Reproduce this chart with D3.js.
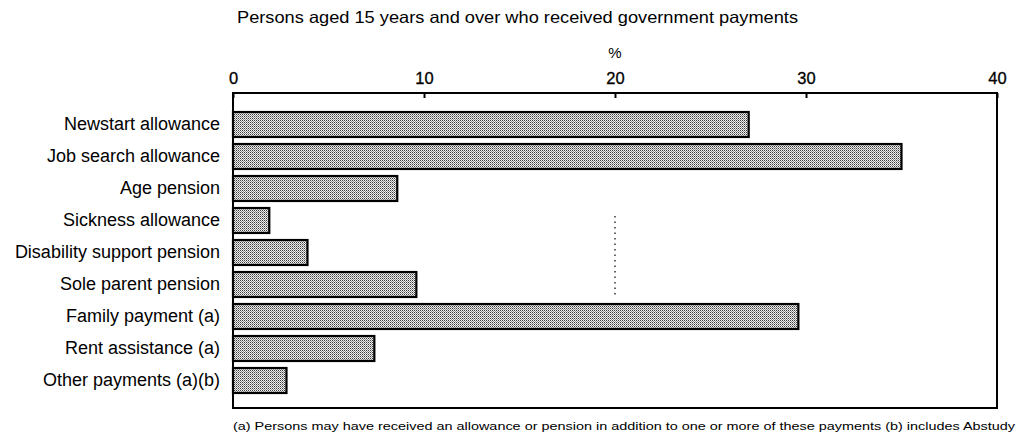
<!DOCTYPE html>
<html>
<head>
<meta charset="utf-8">
<script src="https://cdn.jsdelivr.net/npm/d3@7"></script>
<style>
  html, body { margin: 0; padding: 0; background: #fff; }
  svg { display: block; font-family: "Liberation Sans", Arial, Helvetica, sans-serif; }
</style>
</head>
<body>
<svg id="chart" width="1030" height="434"></svg>
<script>
// Categories and percentages of persons receiving each payment
const categories = [
  "Newstart allowance",
  "Job search allowance",
  "Age pension",
  "Sickness allowance",
  "Disability support pension",
  "Sole parent pension",
  "Family payment (a)",
  "Rent assistance (a)",
  "Other payments (a)(b)"
];
const values = [27, 35, 8.6, 1.9, 3.9, 9.6, 29.6, 7.4, 2.8];
const tickValues = [0, 10, 20, 30, 40];

const titleText = "Persons aged 15 years and over who received government payments";
const unitText = "%";
const footnoteText = "(a) Persons may have received an allowance or pension in addition to one or more of these payments (b) includes Abstudy";

const svg = d3.select("#chart");

// Plot frame
const plotLeft = 233, plotRight = 997, plotTop = 93, plotBottom = 408;

const x = d3.scaleLinear().domain([0, 40]).range([plotLeft, plotRight]);
const y = d3.scaleBand().domain(categories).range([108.5, 396.5])
  .paddingInner(0.22).paddingOuter(0.11);

// Stipple fill used for the bars
const defs = svg.append("defs");
const pat = defs.append("pattern")
  .attr("id", "stipple").attr("patternUnits", "userSpaceOnUse")
  .attr("width", 2).attr("height", 2);
pat.append("rect").attr("width", 2).attr("height", 2).attr("fill", "#f0f0f0");
pat.append("rect").attr("x", 0).attr("y", 0).attr("width", 1).attr("height", 1).attr("fill", "#3a3a3a");
pat.append("rect").attr("x", 1).attr("y", 1).attr("width", 1).attr("height", 1).attr("fill", "#8e8e8e");

// Title and unit
svg.append("text")
  .attr("x", (237 + 798) / 2).attr("y", 23)
  .attr("text-anchor", "middle")
  .attr("font-size", 16.5)
  .attr("textLength", 561).attr("lengthAdjust", "spacingAndGlyphs")
  .attr("fill", "#000")
  .text(titleText);

svg.append("text")
  .attr("x", x(20)).attr("y", 58)
  .attr("text-anchor", "middle")
  .attr("font-size", 15)
  .attr("fill", "#000")
  .text(unitText);

// Top axis with short inward ticks
const xAxis = d3.axisTop(x).tickValues(tickValues).tickFormat(d3.format("d"))
  .tickSizeInner(-5).tickSizeOuter(0).tickPadding(9);
const gx = svg.append("g").attr("transform", `translate(0,${plotTop})`).call(xAxis);
gx.select(".domain").remove();
gx.selectAll(".tick line").attr("stroke", "#000").attr("stroke-width", 2);
gx.selectAll(".tick text").attr("font-size", 16.5).attr("fill", "#000")
  .attr("stroke", "#000").attr("stroke-width", 0.3)
  .attr("font-family", "Liberation Sans, Arial, sans-serif");

// Dotted reference line at 20 per cent
svg.append("line")
  .attr("x1", x(20)).attr("x2", x(20))
  .attr("y1", y("Sickness allowance") + 8)
  .attr("y2", y("Sole parent pension") + y.bandwidth() + 1)
  .attr("stroke", "#000").attr("stroke-width", 1.2)
  .attr("stroke-dasharray", "1.5,4");

// Bars
svg.append("g").selectAll("rect")
  .data(categories.map((c, i) => ({ c, v: values[i] })))
  .join("rect")
  .attr("x", x(0))
  .attr("y", d => y(d.c))
  .attr("width", d => x(d.v) - x(0))
  .attr("height", y.bandwidth())
  .attr("fill", "url(#stipple)")
  .attr("stroke", "#000")
  .attr("stroke-width", 2.2);

// Frame
svg.append("rect")
  .attr("x", plotLeft).attr("y", plotTop)
  .attr("width", plotRight - plotLeft).attr("height", plotBottom - plotTop)
  .attr("fill", "none").attr("stroke", "#000").attr("stroke-width", 2);

// Category labels
const yAxis = d3.axisLeft(y).tickSize(0).tickPadding(13);
const gy = svg.append("g").attr("transform", `translate(${plotLeft},0)`).call(yAxis);
gy.select(".domain").remove();
gy.selectAll(".tick text").attr("font-size", 18).attr("fill", "#000")
  .attr("font-family", "Liberation Sans, Arial, sans-serif");

// Footnote
svg.append("text")
  .attr("x", 233).attr("y", 430)
  .attr("font-size", 11.5)
  .attr("textLength", 782).attr("lengthAdjust", "spacingAndGlyphs")
  .attr("fill", "#000")
  .text(footnoteText);
</script>
</body>
</html>
